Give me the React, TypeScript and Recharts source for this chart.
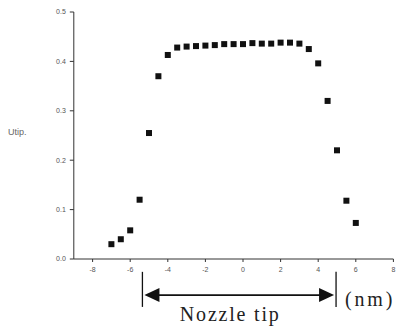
import React from 'react';
import {
  ScatterChart,
  Scatter,
  XAxis,
  YAxis,
  ReferenceLine,
} from 'recharts';

// position along the nozzle (nm) and measured U tip
const positions = [-7, -6.5, -6, -5.5, -5, -4.5, -4, -3.5, -3, -2.5, -2, -1.5, -1, -0.5, 0, 0.5, 1, 1.5, 2, 2.5, 3, 3.5, 4, 4.5, 5, 5.5, 6];
const uTip = [0.03, 0.04, 0.058, 0.12, 0.255, 0.37, 0.413, 0.428, 0.43, 0.431, 0.432, 0.433, 0.435, 0.435, 0.435, 0.437, 0.436, 0.436, 0.438, 0.438, 0.436, 0.425, 0.396, 0.32, 0.22, 0.118, 0.073];

const xTicks = [-8, -6, -4, -2, 0, 2, 4, 6, 8];
const yTicks = [0, 0.1, 0.2, 0.3, 0.4, 0.5];

// nozzle tip edges (nm) and the heights of the annotation below the axis
const tipLeft = -5.35;
const tipRight = 4.95;
const markTop = -0.026;
const markBottom = -0.097;
const arrowLevel = -0.073;

const serif = '"Liberation Serif", "DejaVu Serif", serif';
const sans = '"Liberation Sans", Arial, sans-serif';

const SquareDot = (props: any) => (
  <rect x={props.cx - 3} y={props.cy - 3} width={6} height={6} fill="#111" />
);

const TipMark = (props: any) => (
  <line x1={props.x1} y1={props.y1} x2={props.x2} y2={props.y2} stroke="#111" strokeWidth={1.3} />
);

const TipArrow = (props: any) => {
  const { x1, y1, x2 } = props;
  const head = 15;
  const half = 7;
  const mid = (x1 + x2) / 2;
  return (
    <g>
      <line x1={x1 + head} y1={y1} x2={x2 - head} y2={y1} stroke="#111" strokeWidth={1.8} />
      <polygon points={`${x1 + 2},${y1} ${x1 + 2 + head},${y1 - half} ${x1 + 2 + head},${y1 + half}`} fill="#111" />
      <polygon points={`${x2 - 2},${y1} ${x2 - 2 - head},${y1 - half} ${x2 - 2 - head},${y1 + half}`} fill="#111" />
      <text x={mid - 9} y={y1 + 26} textAnchor="middle" fontFamily={serif} fontSize={20} letterSpacing={1.8} fill="#222">
        Nozzle tip
      </text>
      <text x={x2 + 9} y={y1 + 11} textAnchor="start" fontFamily={serif} fontSize={20} letterSpacing={2.8} fill="#222">
        (nm)
      </text>
    </g>
  );
};

export default function App() {
  const data = positions.map((x, i) => ({ x, u: uTip[i] }));

  return (
    <div style={{ position: 'absolute', left: 0, top: 0, width: 403, height: 326, background: '#fff' }}>
      <ScatterChart width={403} height={326} margin={{ top: 12, right: 9.6, bottom: 47, left: 0 }}>
        <XAxis
          type="number"
          dataKey="x"
          domain={[-9, 8]}
          ticks={xTicks}
          interval={0}
          height={20}
          tickSize={3}
          tickMargin={5}
          stroke="#333"
          tick={{ fontSize: 7, fill: '#555', fontFamily: sans }}
        />
        <YAxis
          type="number"
          dataKey="u"
          domain={[0, 0.5]}
          ticks={yTicks}
          interval={0}
          width={73.8}
          tickSize={4}
          tickMargin={4}
          stroke="#333"
          tickFormatter={(v: number) => v.toFixed(1)}
          tick={{ fontSize: 7, fill: '#555', fontFamily: sans }}
          label={{ value: 'Utip.', position: 'insideLeft', offset: 8, dy: -4, fontSize: 9, fill: '#666', fontFamily: sans }}
        />
        <Scatter data={data} fill="#111" shape={SquareDot} isAnimationActive={false} />
        <ReferenceLine
          segment={[{ x: tipLeft, y: markTop }, { x: tipLeft, y: markBottom }]}
          ifOverflow="visible"
          shape={TipMark}
        />
        <ReferenceLine
          segment={[{ x: tipRight, y: markTop }, { x: tipRight, y: markBottom }]}
          ifOverflow="visible"
          shape={TipMark}
        />
        <ReferenceLine
          segment={[{ x: tipLeft, y: arrowLevel }, { x: tipRight, y: arrowLevel }]}
          ifOverflow="visible"
          shape={TipArrow}
        />
      </ScatterChart>
    </div>
  );
}
